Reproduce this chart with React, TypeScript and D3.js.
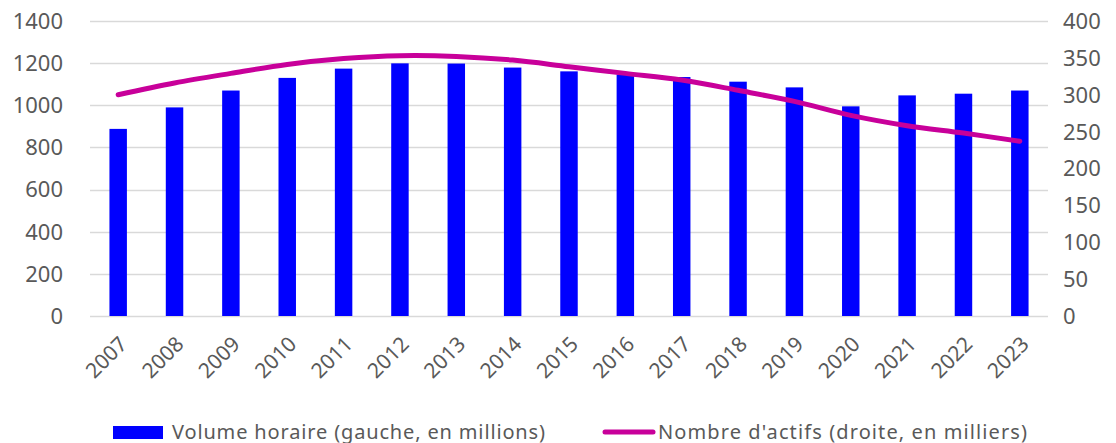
import React, { useRef, useEffect } from "react";
import * as d3 from "d3";

const years = ["2007", "2008", "2009", "2010", "2011", "2012", "2013", "2014", "2015", "2016", "2017", "2018", "2019", "2020", "2021", "2022", "2023"];
// volume horaire, en millions (axe gauche)
const volume = [888, 990, 1070, 1130, 1174, 1199, 1198, 1179, 1161, 1146, 1134, 1112, 1085, 995, 1047, 1055, 1070];
// nombre d'actifs, en milliers (axe droit)
const actifs = [300, 316, 329, 341, 349, 353, 352, 347, 338, 329, 320, 306, 291, 272, 258, 248, 237];
const leftTicks = [0, 200, 400, 600, 800, 1000, 1200, 1400];
const rightTicks = [0, 50, 100, 150, 200, 250, 300, 350, 400];

const W = 1116;
const H = 443;
const margin = { top: 21, right: 68, bottom: 127, left: 90 };
const font = "'Noto Sans', sans-serif";
const textColor = "#595959";

const App = () => {
  const svgRef = useRef(null);

  useEffect(() => {
    const svg = d3.select(svgRef.current);
    svg.selectAll("*").remove();

    const chartWidth = W - margin.left - margin.right;
    const chartHeight = H - margin.top - margin.bottom;

    const x = d3.scaleBand().domain(years).range([0, chartWidth]).padding(0);
    const yLeft = d3.scaleLinear().domain([0, 1400]).range([chartHeight, 0]);
    const yRight = d3.scaleLinear().domain([0, 400]).range([chartHeight, 0]);

    const chart = svg.append("g").attr("transform", `translate(${margin.left}, ${margin.top})`);

    // gridlines
    chart
      .selectAll("line.grid")
      .data(leftTicks)
      .enter()
      .append("line")
      .attr("class", "grid")
      .attr("x1", 0)
      .attr("x2", chartWidth)
      .attr("y1", (d) => Math.round(yLeft(d)) + 0.5)
      .attr("y2", (d) => Math.round(yLeft(d)) + 0.5)
      .attr("stroke", "#d9d9d9")
      .attr("stroke-width", 1.3);

    // bars
    const barW = x.bandwidth() * 0.31;
    chart
      .selectAll("rect.bar")
      .data(volume)
      .enter()
      .append("rect")
      .attr("class", "bar")
      .attr("x", (d, i) => x(years[i]) + x.bandwidth() / 2 - barW / 2)
      .attr("y", (d) => yLeft(d))
      .attr("width", barW)
      .attr("height", (d) => chartHeight - yLeft(d))
      .attr("fill", "#0000ff");

    // line
    const line = d3
      .line()
      .x((d, i) => x(years[i]) + x.bandwidth() / 2)
      .y((d) => yRight(d))
      .curve(d3.curveCatmullRom.alpha(0.5));
    chart
      .append("path")
      .datum(actifs)
      .attr("d", line)
      .attr("fill", "none")
      .attr("stroke", "#c8009a")
      .attr("stroke-width", 5)
      .attr("stroke-linecap", "round");

    // left axis labels
    chart
      .selectAll("text.yl")
      .data(leftTicks)
      .enter()
      .append("text")
      .attr("x", -27)
      .attr("y", (d) => yLeft(d))
      .attr("dy", "0.36em")
      .attr("text-anchor", "end")
      .attr("font-family", font)
      .attr("font-size", 22)
      .attr("fill", textColor)
      .text((d) => d);

    // right axis labels
    chart
      .selectAll("text.yr")
      .data(rightTicks)
      .enter()
      .append("text")
      .attr("x", chartWidth + 15)
      .attr("y", (d) => yRight(d))
      .attr("dy", "0.36em")
      .attr("text-anchor", "start")
      .attr("font-family", font)
      .attr("font-size", 22)
      .attr("fill", textColor)
      .text((d) => d);

    // x labels, rotated
    chart
      .selectAll("text.xl")
      .data(years)
      .enter()
      .append("text")
      .attr("transform", (d) => `translate(${x(d) + x.bandwidth() / 2}, ${chartHeight + 19}) rotate(-45)`)
      .attr("text-anchor", "end")
      .attr("dy", "0.7em")
      .attr("font-family", font)
      .attr("font-size", 21)
      .attr("fill", textColor)
      .text((d) => d);

    // legend
    const legend = svg.append("g").attr("transform", `translate(0, 432)`);
    legend.append("rect").attr("x", 113).attr("y", -6).attr("width", 50).attr("height", 13).attr("fill", "#0000ff");
    legend
      .append("text")
      .attr("x", 172)
      .attr("y", 0)
      .attr("dy", "0.35em")
      .attr("font-family", font)
      .attr("font-size", 20)
      .attr("fill", textColor)
      .attr("textLength", 373)
      .attr("lengthAdjust", "spacing")
      .text("Volume horaire (gauche, en millions)");
    legend
      .append("line")
      .attr("x1", 605)
      .attr("x2", 653)
      .attr("y1", 0)
      .attr("y2", 0)
      .attr("stroke", "#c8009a")
      .attr("stroke-width", 5)
      .attr("stroke-linecap", "round");
    legend
      .append("text")
      .attr("x", 658)
      .attr("y", 0)
      .attr("dy", "0.35em")
      .attr("font-family", font)
      .attr("font-size", 20)
      .attr("fill", textColor)
      .attr("textLength", 369)
      .attr("lengthAdjust", "spacing")
      .text("Nombre d'actifs (droite, en milliers)");
  }, []);

  return (
    <svg
      ref={svgRef}
      width={W}
      height={H}
      style={{ position: "absolute", left: 0, top: 0, background: "#fff" }}
    ></svg>
  );
};

export default App;
